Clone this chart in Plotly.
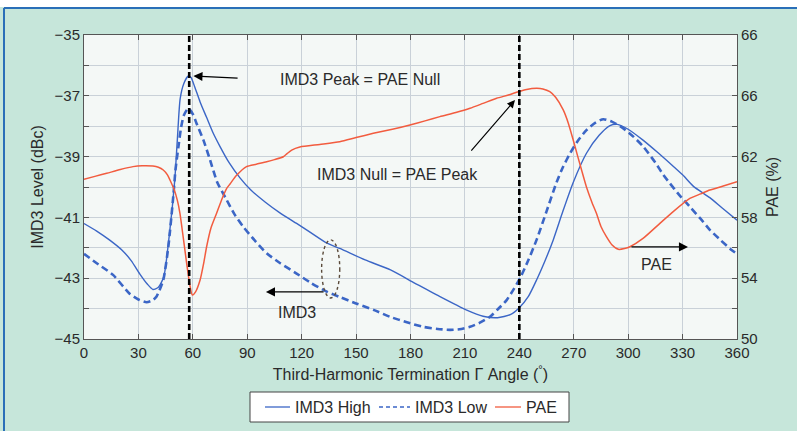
import plotly.graph_objects as go

# ---- data ----
high_x = [0, 7, 14, 21, 26, 31, 35, 38, 41, 44, 47, 50, 51.5, 53, 55, 57.5, 59, 61, 64, 67.5, 71, 75, 80, 86, 92,
          100, 108, 117, 125, 134, 141, 155, 169, 182, 196, 211, 220, 228, 235, 240, 245, 249.5, 254, 258.7, 264,
          269.7, 277, 284, 290, 294, 300, 308, 316, 323, 330, 336, 345, 352, 360]
high_y = [-41.2, -41.45, -41.74, -42.08, -42.42, -42.88, -43.2, -43.37, -43.3, -42.95, -41.6, -39.8, -38.4, -37.1,
          -36.6, -36.35, -36.4, -36.7, -37.2, -37.7, -38.2, -38.67, -39.2, -39.7, -40.1, -40.5, -40.85, -41.19,
          -41.5, -41.85, -42.02, -42.4, -42.73, -43.15, -43.6, -44.05, -44.25, -44.3, -44.2, -43.97, -43.6, -43.06,
          -42.45, -41.74, -40.8, -39.85, -38.89, -38.3, -37.98, -37.94, -38.1, -38.45, -38.85, -39.22, -39.6,
          -39.98, -40.35, -40.7, -41.09]

low_x = [0, 8, 16, 25, 30, 34.5, 38, 40, 43.7, 46.5, 49.2, 50.5, 52, 53.5, 55, 57.5, 60, 62, 65.8, 69.5, 73.5,
         78.7, 83, 87.8, 94, 100.7, 108, 117, 125, 133.8, 141, 150, 160, 168.7, 178, 187, 195, 201.8, 207, 212.8,
         218, 223.8, 228, 233, 236.5, 240.4, 245, 249.5, 255, 260.5, 264, 268, 272, 277, 282, 286.3, 291, 297.3,
         303, 308.3, 315, 319.4, 323, 328, 334, 340, 345, 351, 357, 360]
low_y = [-42.2, -42.55, -42.89, -43.5, -43.7, -43.79, -43.72, -43.6, -43.06, -41.96, -40.32, -39.4, -38.7, -38.05,
         -37.65, -37.41, -37.6, -37.9, -38.45, -39.11, -39.85, -40.43, -40.9, -41.31, -41.75, -42.18, -42.5, -42.84,
         -43.15, -43.44, -43.62, -43.83, -44.05, -44.27, -44.45, -44.6, -44.67, -44.7, -44.68, -44.6, -44.47,
         -44.27, -44.03, -43.72, -43.4, -43.0, -42.4, -41.74, -40.8, -39.85, -39.35, -38.89, -38.5, -38.13, -37.88,
         -37.77, -37.85, -38.07, -38.35, -38.67, -39.2, -39.6, -39.88, -40.25, -40.65, -41.05, -41.41, -41.75,
         -42.07, -42.2]

pae_x = [0, 6, 12.5, 20, 27, 32, 38, 41, 43.7, 46, 47.4, 49.8, 51.5, 52.9, 54.8, 56.6, 58.3, 59.7, 61.5, 64, 66,
         67.6, 70, 73.1, 76, 78.6, 80.5, 84, 89.6, 95, 100.7, 105, 109.9, 112, 114.5, 119, 130, 141, 150, 159.5,
         170, 179.7, 188, 196.2, 205, 212.8, 220, 227.5, 234, 239.4, 244, 249.5, 253, 256.8, 260, 264.2, 267,
         269.7, 272, 274.3, 277, 280, 282.5, 285, 288, 291, 294.6, 298, 301, 308, 317.5, 325, 334, 340, 345, 352,
         360]
pae_y = [60.5, 60.7, 60.9, 61.15, 61.34, 61.4, 61.38, 61.3, 61.12, 60.8, 60.46, 59.8, 59.1, 58.27, 56.6, 54.98,
         53.6, 52.89, 53.1, 53.88, 55.0, 56.07, 57.3, 58.27, 59.2, 59.9, 60.2, 60.75, 61.34, 61.5, 61.66, 61.8,
         61.99, 62.2, 62.43, 62.63, 62.8, 62.98, 63.25, 63.53, 63.8, 64.08, 64.35, 64.63, 64.9, 65.18, 65.5, 65.84,
         66.05, 66.27, 66.42, 66.49, 66.45, 66.27, 65.9, 65.07, 64.2, 63.09, 62.1, 61.12, 60.0, 59.0, 58.27, 57.4,
         56.73, 56.2, 55.9, 55.95, 56.07, 56.6, 57.61, 58.4, 59.25, 59.55, 59.8, 60.05, 60.35]

x_ticks = [0, 30, 60, 90, 120, 150, 180, 210, 240, 270, 300, 330, 360]
y_ticks = [-45, -44, -43, -42, -41, -40, -39, -38, -37, -36, -35]
y_labels = ["−45", "", "−43", "", "−41", "", "−39", "", "−37", "", "−35"]
y2_ticks = [50, 52, 54, 56, 58, 60, 62, 64, 66, 68, 70]
y2_labels = ["50", "", "54", "", "58", "", "62", "", "66", "", "66"]
marker_angles = [58, 240]
legend_names = ["IMD3 High", "IMD3 Low", "PAE"]

BLUE = "#3b66c6"
RED = "#f25c3f"
TXT = "#2a2a2a"
FONT = "Liberation Sans, Arial, sans-serif"

fig = go.Figure()
fig.add_trace(go.Scatter(x=high_x, y=high_y, name=legend_names[0], mode="lines", showlegend=False,
                         line=dict(color=BLUE, width=1.4, shape="spline", smoothing=0.6)))
fig.add_trace(go.Scatter(x=low_x, y=low_y, name=legend_names[1], mode="lines", showlegend=False,
                         line=dict(color=BLUE, width=2.6, dash="7px,4px", shape="spline", smoothing=0.6)))
fig.add_trace(go.Scatter(x=pae_x, y=pae_y, name=legend_names[2], mode="lines", yaxis="y2", showlegend=False,
                         line=dict(color=RED, width=1.5, shape="spline", smoothing=0.6)))

# pixel -> paper helpers for the plot area (l=84, plot width 653, bottom at 339, height 304)
def px_x(p):
    return (p - 84) / 653.0

def px_y(p):
    return (339 - p) / 304.0

shapes = []
for a in marker_angles:
    shapes.append(dict(type="line", xref="x", yref="paper", x0=a, x1=a, y0=0, y1=1,
                       line=dict(color="black", width=2.6, dash="6px,3px"), layer="above"))
# dotted ellipse around the two IMD3 curves
shapes.append(dict(type="circle", xref="x", yref="y", x0=131, x1=141, y0=-43.65, y1=-41.74,
                   line=dict(color="#5a4a3a", width=1.4, dash="dot")))
# frame decorations: white strip at top, blue border lines
shapes.append(dict(type="rect", xref="paper", yref="paper", x0=-0.2, x1=1.2, y0=px_y(7), y1=px_y(-30),
                   fillcolor="white", line=dict(width=0), layer="below"))
shapes.append(dict(type="line", xref="paper", yref="paper", x0=px_x(4), x1=1.2, y0=px_y(8), y1=px_y(8),
                   line=dict(color="#2a6fb8", width=2), layer="below"))
shapes.append(dict(type="line", xref="paper", yref="paper", x0=px_x(4), x1=px_x(4), y0=px_y(460), y1=px_y(8),
                   line=dict(color="#2a6fb8", width=2), layer="below"))

# legend box drawn by hand so that it does not change the margins
shapes.append(dict(type="rect", xref="paper", yref="paper", x0=px_x(250), x1=px_x(569), y0=px_y(422),
                   y1=px_y(392), fillcolor="white", line=dict(color="#444444", width=1)))
leg_y = px_y(407)
leg_samples = [(265, 290, dict(color=BLUE, width=1.3)),
               (379, 410, dict(color=BLUE, width=1.3, dash="4px,3px")),
               (495, 521, dict(color=RED, width=1.3))]
for x0, x1, ln in leg_samples:
    shapes.append(dict(type="line", xref="paper", yref="paper", x0=px_x(x0), x1=px_x(x1),
                       y0=leg_y, y1=leg_y, line=ln))

afont = dict(family=FONT, size=16, color=TXT)
annotations = [
    dict(x=60.3, y=-36.35, xref="x", yref="y", ax=85.5, ay=-36.42, axref="x", ayref="y",
         showarrow=True, arrowhead=2, arrowsize=1.3, arrowwidth=1.4, arrowcolor="black", text=""),
    dict(x=237.6, y=-37.14, xref="x", yref="y", ax=212.8, ay=-38.85, axref="x", ayref="y",
         showarrow=True, arrowhead=2, arrowsize=1.3, arrowwidth=1.2, arrowcolor="black", text=""),
    dict(x=100.3, y=-43.45, xref="x", yref="y", ax=132.9, ay=-43.45, axref="x", ayref="y",
         showarrow=True, arrowhead=2, arrowsize=1.3, arrowwidth=1.4, arrowcolor="black", text=""),
    dict(x=333, y=-41.97, xref="x", yref="y", ax=301, ay=-41.97, axref="x", ayref="y",
         showarrow=True, arrowhead=2, arrowsize=1.3, arrowwidth=1.4, arrowcolor="black", text=""),
    dict(x=px_x(360), y=px_y(79), xref="paper", yref="paper", text="IMD3 Peak = PAE Null",
         showarrow=False, font=afont, xanchor="center", yanchor="middle"),
    dict(x=px_x(397), y=px_y(174), xref="paper", yref="paper", text="IMD3 Null = PAE Peak",
         showarrow=False, font=afont, xanchor="center", yanchor="middle"),
    dict(x=px_x(297), y=px_y(312), xref="paper", yref="paper", text="IMD3",
         showarrow=False, font=afont, xanchor="center", yanchor="middle"),
    dict(x=px_x(656), y=px_y(264), xref="paper", yref="paper", text="PAE",
         showarrow=False, font=afont, xanchor="center", yanchor="middle"),
]
for (x0, x1, ln), name in zip(leg_samples, legend_names):
    annotations.append(dict(x=px_x(x1 + 3), y=leg_y, xref="paper", yref="paper", text=name,
                            showarrow=False, font=afont, xanchor="left", yanchor="middle"))

grid = "#c9d1d8"
axis_line = "#555555"
tfont = dict(family=FONT, size=15, color=TXT)
titlefont = dict(family=FONT, size=16, color=TXT)

fig.update_layout(
    width=797, height=431,
    margin=dict(l=84, r=60, t=35, b=92),
    paper_bgcolor="#c6e6da",
    plot_bgcolor="#f4f8f6",
    font=dict(family=FONT, size=15, color=TXT),
    shapes=shapes,
    annotations=annotations,
    showlegend=False,
    xaxis=dict(range=[0, 360], tickvals=x_ticks, ticks="inside", ticklen=5, tickcolor=axis_line,
               showline=True, linecolor=axis_line, linewidth=1, mirror="ticks", automargin=False,
               showgrid=True, gridcolor=grid, gridwidth=1, zeroline=False, tickfont=tfont,
               title=dict(text="Third-Harmonic Termination Γ Angle (<sup>°</sup>)", font=titlefont, standoff=8)),
    yaxis=dict(range=[-45, -35], tickvals=y_ticks, ticktext=y_labels, ticks="inside", ticklen=5,
               tickcolor=axis_line, showline=True, linecolor=axis_line, linewidth=1, mirror=True,
               automargin=False,
               showgrid=True, gridcolor=grid, gridwidth=1, zeroline=False, tickfont=tfont,
               title=dict(text="IMD3 Level (dBc)", font=titlefont, standoff=6)),
    yaxis2=dict(range=[50, 70], overlaying="y", side="right", tickvals=y2_ticks, ticktext=y2_labels,
                ticks="inside", ticklen=5, tickcolor=axis_line, showline=True, linecolor=axis_line,
                showgrid=False, zeroline=False, tickfont=tfont, automargin=False,
                title=dict(text="PAE (%)", font=titlefont, standoff=10)),
)

fig.write_html("out.html", config={"displayModeBar": False},
               post_script="document.body.style.margin='0px';")
